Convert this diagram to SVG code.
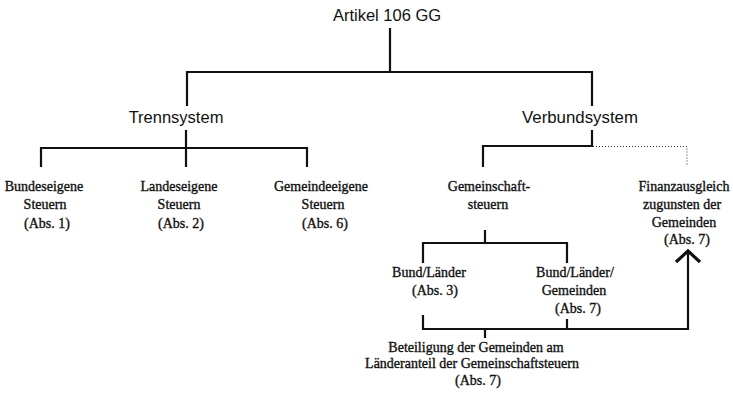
<svg xmlns="http://www.w3.org/2000/svg" width="733" height="393" viewBox="0 0 733 393">
<style>
.sans{font-family:"Liberation Sans",Arial,sans-serif;font-size:16.5px;fill:#111;text-anchor:middle}
.serif{font-family:"Liberation Serif","Times New Roman",serif;font-size:14px;fill:#111;text-anchor:middle;stroke:#111;stroke-width:0.35}
.ln{fill:none;stroke:#111;stroke-width:2.2;stroke-linecap:square}
.dot{fill:none;stroke:#333;stroke-width:1;stroke-dasharray:1 2}
</style>
<rect width="733" height="393" fill="#fff"/>
<g id="connectors">
<path class="ln" d="M390 29V72M187 72H592M187 72V105M592 72V105"/>
<path class="ln" d="M186 131V166M41 148H307M41 148V166M307 148V166"/>
<path class="ln" d="M592 131V146H483V166"/>
<path class="dot" d="M593 146.5H687V165"/>
<path class="ln" d="M485 231V243M423 243H567M423 243V262M567 243V262"/>
<path class="ln" d="M423 316V329H688V253M567 320V329M485 329V337"/>
<polyline points="676,262 688,251 700,262" fill="none" stroke="#111" stroke-width="3.2" stroke-linejoin="miter"/>
</g>
<g id="artikel"><text class="sans" x="387" y="21">Artikel 106 GG</text></g>
<g id="trennsystem"><text class="sans" x="176" y="123">Trennsystem</text></g>
<g id="verbundsystem"><text class="sans" x="580" y="123" textLength="116" lengthAdjust="spacingAndGlyphs">Verbundsystem</text></g>
<g id="bund"><text class="serif" y="190.5"><tspan x="44">Bundeseigene</tspan><tspan x="45" y="209">Steuern</tspan><tspan x="47" y="227.5">(Abs. 1)</tspan></text></g>
<g id="land"><text class="serif" y="190.5"><tspan x="179">Landeseigene</tspan><tspan x="179" y="209">Steuern</tspan><tspan x="181" y="227.5">(Abs. 2)</tspan></text></g>
<g id="gemeinde"><text class="serif" y="190.5"><tspan x="321">Gemeindeeigene</tspan><tspan x="323" y="209">Steuern</tspan><tspan x="325" y="227.5">(Abs. 6)</tspan></text></g>
<g id="gemeinschaft"><text class="serif" y="191"><tspan x="489">Gemeinschaft-</tspan><tspan x="488" y="209">steuern</tspan></text></g>
<g id="finanzausgleich"><text class="serif" y="191"><tspan x="684">Finanzausgleich</tspan><tspan x="682" y="209">zugunsten der</tspan><tspan x="684" y="227">Gemeinden</tspan><tspan x="687" y="244">(Abs. 7)</tspan></text></g>
<g id="bundlaender"><text class="serif" y="277"><tspan x="429">Bund/Länder</tspan><tspan x="435" y="295">(Abs. 3)</tspan></text></g>
<g id="bundlaendergemeinden"><text class="serif" y="277"><tspan x="575">Bund/Länder/</tspan><tspan x="574" y="295">Gemeinden</tspan><tspan x="578" y="313">(Abs. 7)</tspan></text></g>
<g id="beteiligung"><text class="serif" y="351.5"><tspan x="476">Beteiligung der Gemeinden am</tspan><tspan x="472" y="368">Länderanteil der Gemeinschaftsteuern</tspan><tspan x="478" y="384.5">(Abs. 7)</tspan></text></g>
</svg>
